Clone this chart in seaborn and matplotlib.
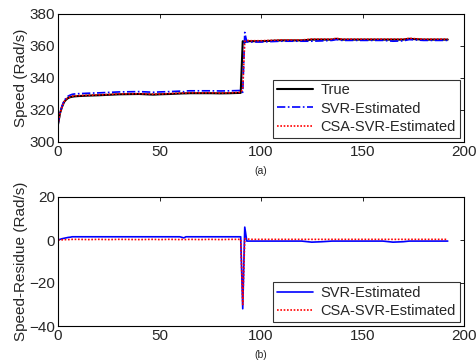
import numpy as np
import pandas as pd
import matplotlib
matplotlib.use("Agg")
import matplotlib.pyplot as plt
import seaborn as sns

# time points (s)
t = [0, 1, 2, 3, 4, 5, 6, 7, 8, 10, 15, 20, 25, 30, 40, 47, 50, 55, 60, 62, 63, 65, 70,
     75, 80, 85, 90, 91, 92, 93, 95, 100, 110, 120, 125, 130, 135, 137, 140, 150, 160,
     165, 170, 173, 180, 192]

# true speed (rad/s)
speed_true = [311, 318, 322, 325, 326.5, 327.5, 328, 328.3, 328.5, 328.7, 329, 329.2, 329.5,
              329.8, 330, 329.6, 329.8, 330, 330.3, 330.4, 330.4, 330.5, 330.5, 330.5, 330.4,
              330.5, 330.7, 363, 362.5, 363, 363, 363, 363.5, 363.5, 364, 364, 364, 364.5, 364,
              364, 364, 364, 364, 364.5, 364, 364]

# residues (estimated - true)
res_svr = [0, 0.3, 0.6, 0.8, 1.0, 1.2, 1.3, 1.5, 1.5, 1.5, 1.5, 1.5, 1.5, 1.5, 1.5, 1.5, 1.5,
           1.5, 1.5, 1.0, 1.5, 1.5, 1.5, 1.5, 1.5, 1.5, 1.5, -32, 6, -0.5, -0.5, -0.5, -0.5,
           -0.5, -1.0, -0.8, -0.5, -0.5, -0.5, -0.5, -0.5, -1.0, -0.8, -0.5, -0.5, -0.5]
res_csa = [0, 0, 0.1, 0.1, 0.2, 0.2, 0.2, 0.3, 0.3, 0.3, 0.2, 0.3, 0.2, 0.3, 0.2, 0.3, 0.2,
           0.3, 0.2, 0.3, 0.2, 0.3, 0.2, 0.3, 0.2, 0.3, 0.3, -30, 0.5, 0.5, 0.3, 0.3, 0.3, 0.3,
           0.3, 0.3, 0.3, 0.3, 0.3, 0.3, 0.3, 0.3, 0.3, 0.3, 0.3, 0.3]

df = pd.DataFrame({"t": t, "true": speed_true, "res_svr": res_svr, "res_csa": res_csa})
df["svr"] = df["true"] + df["res_svr"]
df["csa"] = df["true"] + df["res_csa"]

sns.set_theme(style="white")
plt.rcParams["font.family"] = ["Liberation Sans", "DejaVu Sans"]
plt.rcParams["xtick.direction"] = "in"
plt.rcParams["ytick.direction"] = "in"

fig = plt.figure(figsize=(4.76, 3.6), dpi=100)
ax1 = fig.add_axes([58 / 476, 1 - 142 / 360, 406 / 476, 128 / 360])
ax2 = fig.add_axes([58 / 476, 1 - 326 / 360, 406 / 476, 129 / 360])

sns.lineplot(data=df, x="t", y="true", ax=ax1, color="black", lw=1.5, label="True")
sns.lineplot(data=df, x="t", y="svr", ax=ax1, color="blue", lw=1.2, label="SVR-Estimated",
             linestyle=(0, (5, 1.5, 1, 1.5)))
sns.lineplot(data=df, x="t", y="csa", ax=ax1, color="red", lw=1.2, label="CSA-SVR-Estimated",
             linestyle=(0, (1, 1)))
ax1.set_xlim(0, 200)
ax1.set_ylim(300, 380)
ax1.set_yticks([300, 320, 340, 360, 380])
ax1.set_ylabel("Speed (Rad/s)", fontsize=11, labelpad=1)
ax1.set_xlabel("(a)", fontsize=7.5, labelpad=5)

sns.lineplot(data=df, x="t", y="res_svr", ax=ax2, color="blue", lw=1.2, label="SVR-Estimated")
sns.lineplot(data=df, x="t", y="res_csa", ax=ax2, color="red", lw=1.2, label="CSA-SVR-Estimated",
             linestyle=(0, (1, 1)))
ax2.set_xlim(0, 200)
ax2.set_ylim(-40, 20)
ax2.set_yticks([-40, -20, 0, 20])
ax2.set_ylabel("Speed-Residue (Rad/s)", fontsize=11, labelpad=1)
ax2.set_xlabel("(b)", fontsize=7.5, labelpad=5)

for ax in (ax1, ax2):
    ax.set_xticks([0, 50, 100, 150, 200])
    ax.tick_params(axis="both", labelsize=11, length=3, width=0.6, color="black",
                   top=True, right=True, pad=2)
    for s in ax.spines.values():
        s.set_color("black")
        s.set_linewidth(0.8)
    leg = ax.legend(loc="lower right", fontsize=10.5, frameon=True, fancybox=False,
                    edgecolor="black", borderaxespad=0.3, handlelength=2.5,
                    labelspacing=0.3, borderpad=0.25, handletextpad=0.5)
    leg.get_frame().set_linewidth(0.8)

fig.savefig("out.png", dpi=100)
